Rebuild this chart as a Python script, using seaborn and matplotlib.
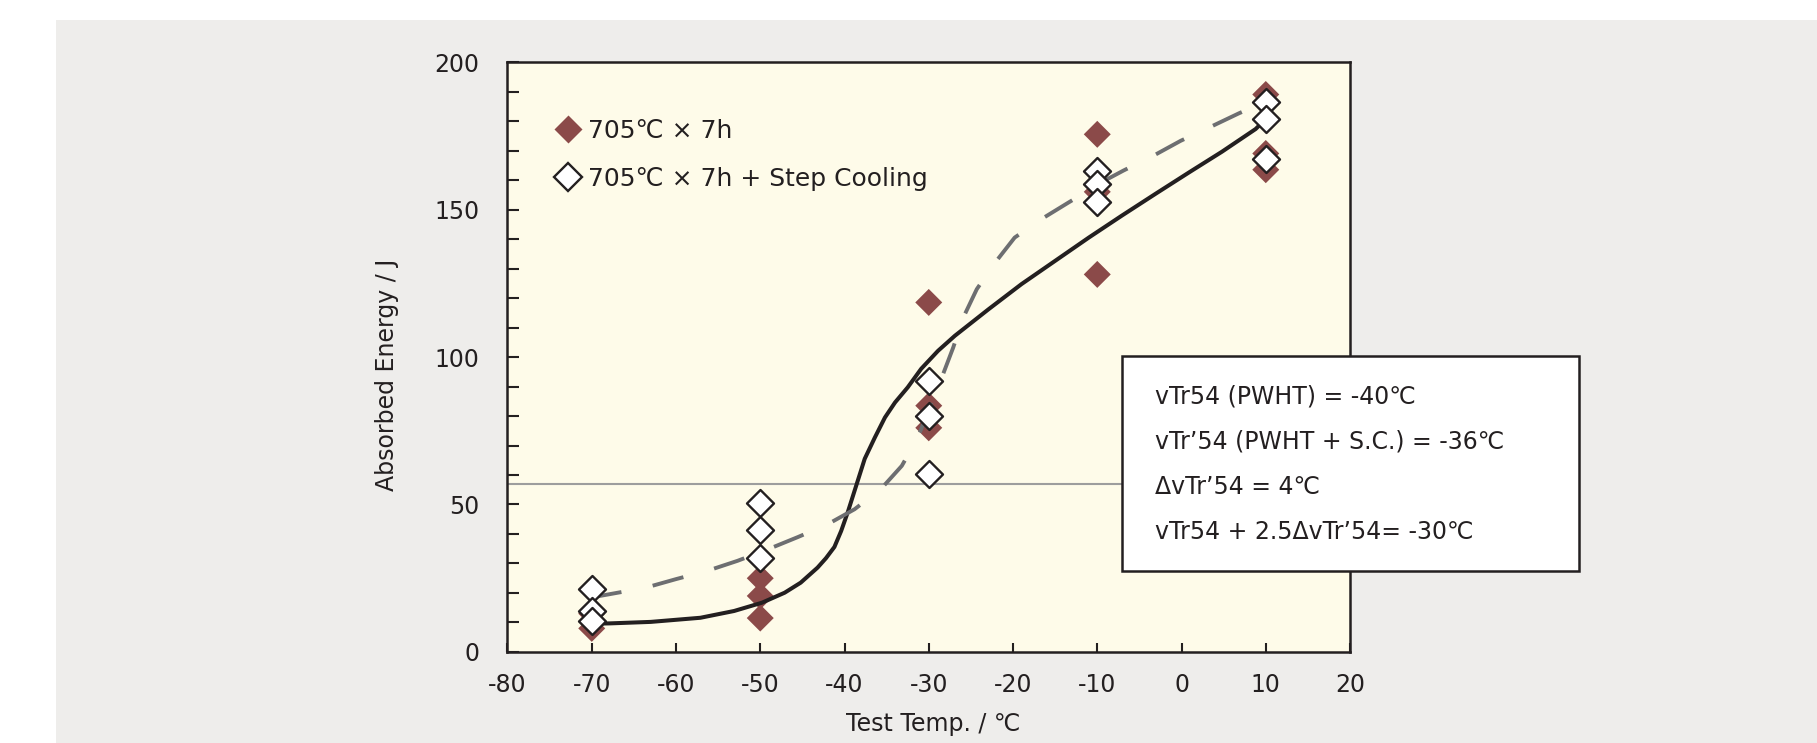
import matplotlib.pyplot as plt
import pandas as pd
import seaborn as sns
from matplotlib.lines import Line2D
from matplotlib.patches import Rectangle
from matplotlib.ticker import FixedLocator, MultipleLocator


# Charpy points (x = test temp, y = absorbed energy)
pwht_temp = [-70, -70, -50, -50, -50, -30, -30, -30, -10, -10, -10, 10, 10, 10]
pwht_energy = [8, 13, 25, 19, 11.5, 118.5, 83.5, 76, 175.5, 156, 128, 189, 169, 163.5]

sc_temp = [-70, -70, -70, -50, -50, -50, -30, -30, -30, -10, -10, -10, 10, 10, 10]
sc_energy = [21.5, 14, 10.5, 50.5, 41.5, 32, 92, 80, 60.5, 163, 158.5, 152.5, 186.3, 180.7, 167]

# fitted transition curves
pwht_curve_temp = [-69.5, -67.8, -63.0, -57.1, -53.1, -49.8, -47.1, -45.2, -43.2, -42.2,
                   -41.2, -40.4, -39.6, -38.6, -37.6, -36.4, -35.2, -34.0, -32.5, -30.9,
                   -28.9, -26.9, -22.9, -19.0, -15.0, -11.0, -7.1, -3.1, 0.9, 4.8,
                   8.8, 9.4]
pwht_curve_energy = [9.6, 9.7, 10.2, 11.6, 13.9, 16.7, 20.1, 23.5, 28.6, 31.8,
                     35.6, 41.0, 47.5, 56.5, 65.5, 72.7, 79.5, 84.6, 89.7, 96.0,
                     102.1, 107.2, 116.2, 124.7, 132.6, 140.5, 147.9, 155.3, 162.6, 169.6,
                     177.3, 179.0]

sc_curve_temp = [-70.2, -63.6, -60.0, -56.3, -52.7, -49.1, -45.5, -42.0, -38.8, -35.6,
                 -33.2, -31.3, -28.3, -27.1, -25.9, -24.3, -22.1, -19.8, -16.6, -13.4,
                 -8.8, -6.9, -3.3, -0.1, 3.5, 6.8, 9.5]
sc_curve_energy = [18.4, 21.8, 24.7, 27.5, 30.9, 34.8, 39.0, 43.3, 48.4, 55.5,
                   63.1, 72.7, 94.2, 103.2, 113.4, 123.0, 132.1, 140.5, 146.8, 152.4,
                   160.3, 163.2, 168.3, 173.3, 178.1, 182.6, 186.0]

threshold_energy = 57
x_ticks = list(range(-80, 21, 10))
y_ticks = [0, 50, 100, 150, 200]
legend_labels = ["705℃ × 7h", "705℃ × 7h + Step Cooling"]
box_lines = [
    "vTr54 (PWHT) = -40℃",
    "vTr’54 (PWHT + S.C.) = -36℃",
    "ΔvTr’54 = 4℃",
    "vTr54 + 2.5ΔvTr’54= -30℃",
]

INK = "#231f20"
RED = "#8b4a49"
DASH_GRAY = "#6d6e71"
PANEL_GRAY = "#eeedeb"
CREAM = "#fefbe9"

sns.set_theme(style="white")
plt.rcParams["font.family"] = ["DejaVu Sans", "Noto Sans CJK JP"]
plt.rcParams["axes.unicode_minus"] = False
plt.rcParams["text.color"] = INK

pwht_df = pd.DataFrame({"temp": pwht_temp, "energy": pwht_energy})
sc_df = pd.DataFrame({"temp": sc_temp, "energy": sc_energy})
pwht_curve = pd.DataFrame({"temp": pwht_curve_temp, "energy": pwht_curve_energy})
sc_curve = pd.DataFrame({"temp": sc_curve_temp, "energy": sc_curve_energy})

fig = plt.figure(figsize=(18.17, 7.43), dpi=100, facecolor="white")
fig.add_artist(Rectangle((0.0308, 0), 0.98, 0.973, transform=fig.transFigure,
                         facecolor=PANEL_GRAY, edgecolor="none", zorder=-5))

ax = fig.add_axes([0.2793, 0.1225, 0.4637, 0.794])
ax.set_facecolor(CREAM)

ax.axhline(threshold_energy, color="#9d9d9d", lw=1.5, zorder=1)

sns.scatterplot(data=pwht_df, x="temp", y="energy", ax=ax, marker="D", s=189,
                color=RED, edgecolor="none", linewidth=0, zorder=2)
sns.lineplot(data=pwht_curve, x="temp", y="energy", ax=ax, color=INK, lw=2.9,
             sort=False, estimator=None, zorder=3)
# dashed curve: ~32 px dashes and gaps
ax.plot(sc_curve["temp"], sc_curve["energy"], color=DASH_GRAY, lw=2.8,
        dashes=(8.2, 8.2), dash_capstyle="butt", zorder=3)
sns.scatterplot(data=sc_df, x="temp", y="energy", ax=ax, marker="D", s=189,
                color="white", edgecolor=INK, linewidth=1.7, zorder=4)

ax.set_xlim(-80, 20)
ax.set_ylim(0, 200)
ax.xaxis.set_major_locator(FixedLocator(x_ticks))
ax.yaxis.set_major_locator(FixedLocator(y_ticks))
ax.yaxis.set_minor_locator(MultipleLocator(10))
ax.tick_params(axis="x", which="both", direction="in", length=6.7, width=1.5,
               color=INK, labelsize=17, labelcolor=INK, pad=15, bottom=True, top=False)
ax.tick_params(axis="y", which="both", direction="in", length=8.6, width=1.5,
               color=INK, labelsize=17, labelcolor=INK, pad=20, left=True, right=False)
for spine in ax.spines.values():
    spine.set_color(INK)
    spine.set_linewidth(1.8)

ax.set_xlabel("Test Temp. / ℃", fontsize=17, color=INK)
ax.set_ylabel("Absorbed Energy / J", fontsize=17, color=INK)
ax.xaxis.set_label_coords(0.505, -0.101)
ax.yaxis.set_label_coords(-0.129, 0.470)

handles = [
    Line2D([], [], ls="none", marker="D", markersize=13.75, markerfacecolor=RED,
           markeredgecolor="none"),
    Line2D([], [], ls="none", marker="D", markersize=13.75, markerfacecolor="white",
           markeredgecolor=INK, markeredgewidth=1.7),
]
ax.legend(handles, legend_labels, loc="upper left", bbox_to_anchor=(0.057, 0.904),
          frameon=False, fontsize=18, handlelength=1.0, handletextpad=0.3,
          labelspacing=0.98, borderpad=0, borderaxespad=0)

# annotation box, sits on top of the axes' right edge
fig.add_artist(Rectangle((0.6173, 0.2315), 0.2517, 0.29, transform=fig.transFigure,
                         facecolor="white", edgecolor=INK, lw=1.8, zorder=10))
for i, line in enumerate(box_lines):
    y_px = 396.7 + i * 45.0
    fig.text(1155 / 1817, 1 - y_px / 743, line, fontsize=17, color=INK,
             ha="left", va="center", zorder=11)

fig.savefig("out.png", dpi=100, facecolor=fig.get_facecolor())
